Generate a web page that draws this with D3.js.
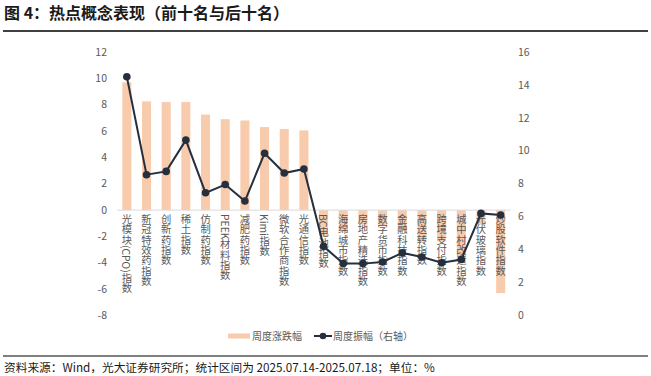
<!DOCTYPE html>
<html>
<head>
<meta charset="utf-8">
<script src="https://cdn.jsdelivr.net/npm/d3@7"></script>
<style>
  body { margin: 0; background: #fff; }
  svg { display: block; font-family: "Noto Sans CJK SC", "Noto Sans", sans-serif; }
</style>
</head>
<body>
<div id="chart"></div>
<script>
'use strict'

// categories (top ten then bottom ten)
const names = ['光模块(CPO)指数', '新冠特效药指数', '创新药指数', '稀土指数', '仿制药指数',
    'PEEK材料指数', '减肥药指数', 'Kimi指数', '微软合作商指数', '光通信指数',
    'BC电池指数', '海绵城市指数', '房地产精选指数', '数字货币指数', '金融科技指数',
    '高送转指数', '跨境支付指数', '城中村改造指数', '光伏玻璃指数', '炒股软件指数']
// 周度涨跌幅 (left axis, %)
const weekChange = [9.7, 8.25, 8.2, 8.2, 7.25, 6.9, 6.8, 6.3, 6.15, 6.05,
    -2.0, -1.6, -1.1, -1.2, -1.6, -2.4, -2.4, -3.8, -1.1, -6.3]
// 周度振幅 (right axis, %)
const weekAmp = [14.5, 8.55, 8.75, 10.65, 7.45, 7.95, 6.95, 9.85, 8.65, 8.9,
    4.2, 3.15, 3.15, 3.25, 3.8, 3.55, 3.2, 3.4, 6.2, 6.1]
const leftTicks = [-8, -6, -4, -2, 0, 2, 4, 6, 8, 10, 12]
const rightTicks = [0, 2, 4, 6, 8, 10, 12, 14, 16]

const W = 651, H = 376
const svg = d3.select('#chart').append('svg')
    .attr('width', W)
    .attr('height', H)

// title
svg.append('text')
    .attr('x', 4)
    .attr('y', 19)
    .attr('font-size', 16)
    .attr('font-weight', 'bold')
    .attr('fill', '#1a1a1a')
    .text('图 4：热点概念表现（前十名与后十名）')

svg.append('line')
    .attr('x1', 3).attr('x2', 648)
    .attr('y1', 31).attr('y2', 31)
    .attr('stroke', '#000')
    .attr('stroke-width', 1.5)

const x = d3.scaleBand()
    .domain(names)
    .range([117, 510.5])
    .paddingInner(0.54)
    .paddingOuter(0.27)

const yL = d3.scaleLinear().domain([-8, 12]).range([315.5, 52])
const yR = d3.scaleLinear().domain([0, 16]).range([315.5, 52])

// left ticks
svg.append('g')
    .selectAll('text')
    .data(leftTicks)
    .join('text')
    .attr('x', 107)
    .attr('y', d => yL(d))
    .attr('dy', '0.35em')
    .attr('text-anchor', 'end')
    .attr('font-size', 10.5)
    .attr('fill', '#595959')
    .text(d => d)

// right ticks
svg.append('g')
    .selectAll('text')
    .data(rightTicks)
    .join('text')
    .attr('x', 518)
    .attr('y', d => yR(d))
    .attr('dy', '0.35em')
    .attr('text-anchor', 'start')
    .attr('font-size', 10.5)
    .attr('fill', '#595959')
    .text(d => d)

// bars
svg.append('g')
    .selectAll('rect')
    .data(weekChange)
    .join('rect')
    .attr('x', (d, i) => x(names[i]))
    .attr('width', x.bandwidth())
    .attr('y', d => Math.min(yL(d), yL(0)))
    .attr('height', d => Math.abs(yL(d) - yL(0)))
    .attr('fill', '#F8CBAD')

// zero line
svg.append('line')
    .attr('x1', 117).attr('x2', 510.5)
    .attr('y1', yL(0)).attr('y2', yL(0))
    .attr('stroke', '#D9D9D9')
    .attr('stroke-width', 1)

// category labels, vertical
svg.append('g')
    .selectAll('text')
    .data(names)
    .join('text')
    .attr('x', d => x(d) + x.bandwidth() / 2)
    .attr('y', yL(0) + 4)
    .attr('font-size', 10.3)
    .attr('fill', '#595959')
    .style('writing-mode', 'vertical-rl')
    .style('text-orientation', 'mixed')
    .text(d => d)

// line
const cx = (d, i) => x(names[i]) + x.bandwidth() / 2
svg.append('path')
    .datum(weekAmp)
    .attr('fill', 'none')
    .attr('stroke', '#262F3E')
    .attr('stroke-width', 2)
    .attr('d', d3.line().x(cx).y(d => yR(d)))

svg.append('g')
    .selectAll('circle')
    .data(weekAmp)
    .join('circle')
    .attr('cx', cx)
    .attr('cy', d => yR(d))
    .attr('r', 3.8)
    .attr('fill', '#262F3E')

// legend
const lg = svg.append('g').attr('font-size', 10).attr('fill', '#595959')
lg.append('rect')
    .attr('x', 228).attr('y', 333.5)
    .attr('width', 22).attr('height', 5)
    .attr('fill', '#F8CBAD')
lg.append('text').attr('x', 252).attr('y', 339.5).text('周度涨跌幅')
lg.append('line')
    .attr('x1', 314).attr('x2', 332)
    .attr('y1', 336).attr('y2', 336)
    .attr('stroke', '#262F3E').attr('stroke-width', 2)
lg.append('circle').attr('cx', 323).attr('cy', 336).attr('r', 3.3).attr('fill', '#262F3E')
lg.append('text').attr('x', 333).attr('y', 339.5).text('周度振幅（右轴）')

// footer
svg.append('line')
    .attr('x1', 3).attr('x2', 648)
    .attr('y1', 356).attr('y2', 356)
    .attr('stroke', '#000')
    .attr('stroke-width', 1.2)

svg.append('text')
    .attr('x', 4)
    .attr('y', 372)
    .attr('font-size', 11.7)
    .attr('fill', '#1a1a1a')
    .text('资料来源：Wind，光大证券研究所；统计区间为 2025.07.14-2025.07.18；单位：%')
</script>
</body>
</html>
